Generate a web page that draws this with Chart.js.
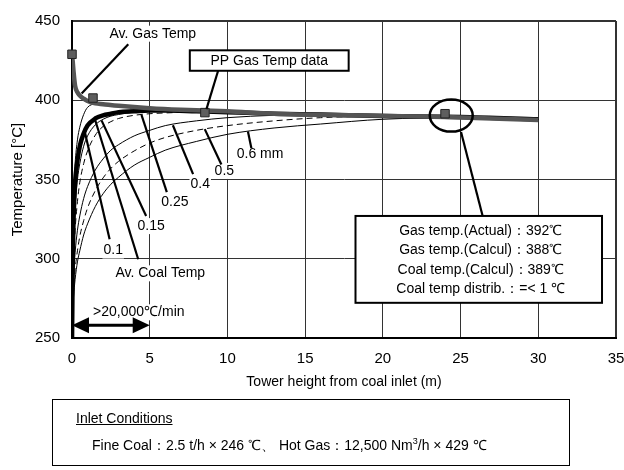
<!DOCTYPE html>
<html lang="en">
<head>
  <meta charset="UTF-8" />
  <title>Coal / Gas Temperature vs Tower Height</title>
  <script src="https://cdn.jsdelivr.net/npm/chart.js"></script>
  <style>
    body { margin: 0; background: #fff; font-family: "Liberation Sans", Arial, sans-serif; }
    #wrap { position: relative; width: 624px; height: 470px; }
    #inlet {
      position: absolute; left: 52px; top: 399px; width: 518px; height: 67px;
      border: 1.5px solid #000; box-sizing: border-box; font-size: 14px; color: #000;
    }
    #inlet .h { position: absolute; left: 23px; top: 10px; text-decoration: underline; }
    #inlet .l { position: absolute; left: 39px; top: 35px; white-space: nowrap; }
  </style>
</head>
<body>
<div id="wrap">
  <canvas id="chart" width="624" height="470"></canvas>
  <div id="inlet">
    <div class="h">Inlet Conditions</div>
    <div class="l">Fine Coal：2.5 t/h × 246 ℃、 Hot Gas：12,500 Nm<sup style="font-size:9px">3</sup>/h × 429 ℃</div>
  </div>
</div>

<script>
  // tower height (m) for the coal curves
  const coalX = [0, 0.05, 0.1, 0.2, 0.35, 0.5, 0.75, 1, 1.5, 2, 2.5, 3, 4, 5, 6, 8, 10, 13, 16, 20, 25, 30];
  // coal temperature per particle size (deg C)
  const coal01  = [246, 320, 340, 360, 375, 383, 391, 395.5, 397.5, 397.5, 397, 396.5, 395.5, 395, 394.5, 393.5, 393, 391.5, 391, 390, 389.5, 388];
  const coalAvg = [246, 300, 325, 348, 362, 371, 379, 384, 388.5, 390.5, 391.5, 392.5, 393, 393.5, 393.5, 393, 392.5, 391.5, 391, 390, 389.5, 388];
  const coal015 = [246, 290, 310, 333, 350, 360, 371, 377.5, 384.5, 388, 390, 391, 392.5, 393, 393, 393, 392.5, 391.5, 391, 390, 389.5, 388];
  const coal025 = [246, 283, 297, 318, 336, 348, 360, 368, 378, 383.5, 386.5, 388.5, 390.5, 391.5, 392, 392.5, 392.5, 391.5, 391, 390, 389.5, 388];
  const coal04  = [246, 279, 290, 304, 318, 327, 338, 345.5, 356, 363, 368.5, 372, 377.5, 381, 384, 387, 389, 390.5, 391, 390, 389.5, 388];
  const coal05  = [246, 272, 281, 293, 305, 314, 324, 332, 343, 351, 357, 361.5, 368, 373, 376.5, 381, 384, 387, 389, 390, 389.5, 388];
  const coal06  = [246, 268, 276, 287, 298, 305, 315, 322, 333, 341, 347, 351.5, 359, 364, 368.5, 374, 378.5, 382.5, 385, 388, 389, 388];

  // average gas temperature
  const gasX = [0, 0.05, 0.1, 0.2, 0.35, 0.5, 0.75, 1, 1.5, 2, 3, 5, 7, 10, 13, 18, 24, 30];
  const gasT = [429, 424, 418, 409, 405, 403, 401, 399.5, 398, 397.5, 396.5, 395, 394, 393, 391.5, 390.5, 389.5, 387.5];

  // plant (PP) gas temperature measurements
  const ppX = [0, 1.35, 8.55, 24.0];
  const ppT = [429, 401.4, 392.2, 391.5];

  const xTicks = { min: 0, max: 35, step: 5 };
  const yTicks = { min: 250, max: 450, step: 50 };

  const toPts = (xs, ys) => xs.map((v, i) => ({ x: v, y: ys[i] }));

  function thin(data, dashed) {
    return {
      data: toPts(coalX, data), borderColor: "#000", borderWidth: 1,
      borderDash: dashed ? [6, 4] : [], pointRadius: 0,
      cubicInterpolationMode: "monotone", order: 2
    };
  }

  // annotations in data units
  const labels = [
    { t: "Av. Gas Temp", x: 5.2, y: 442 },
    { t: "0.6 mm", x: 12.1, y: 365.7 },
    { t: "0.5", x: 9.8, y: 355.4 },
    { t: "0.4", x: 8.25, y: 347 },
    { t: "0.25", x: 6.62, y: 336 },
    { t: "0.15", x: 5.09, y: 320.6 },
    { t: "0.1", x: 2.65, y: 305.2 },
    { t: "Av. Coal Temp", x: 5.68, y: 290.8 },
    { t: ">20,000℃/min", x: 4.3, y: 266.2 }
  ];
  const leaders = [
    [3.62, 435.4, 0.62, 404.3],
    [9.4, 418.6, 8.65, 394.4],
    [25.03, 380, 26.42, 327],
    [11.54, 369.8, 11.32, 380.3],
    [9.61, 359.5, 8.54, 381.8],
    [7.79, 353.4, 6.49, 384.2],
    [6.1, 342, 4.47, 390.8],
    [4.77, 327, 1.9, 387.3],
    [2.42, 312.3, 0.8, 381],
    [4.26, 299.7, 1.47, 388.2]
  ];
  const ppBox = { t: "PP Gas Temp data", x1: 7.58, x2: 17.8, y1: 431.5, y2: 418.6 };
  const infoBox = {
    lines: ["Gas temp.(Actual)：392℃", "Gas temp.(Calcul)：388℃", "Coal temp.(Calcul)：389℃", "Coal temp distrib.：=< 1 ℃"],
    x1: 18.24, x2: 34.1, y1: 327, y2: 272.2
  };
  const circle = { x: 24.4, y: 390.3 };
  const arrow = { x1: 0, x2: 5, y: 258 };

  const annot = {
    id: "annot",
    afterDatasetsDraw(chart) {
      const { ctx, scales: { x, y } } = chart;
      const px = v => x.getPixelForValue(v);
      const py = v => y.getPixelForValue(v);
      ctx.save();
      ctx.font = '14px "Liberation Sans", Arial, sans-serif';
      ctx.textAlign = "center";
      ctx.textBaseline = "middle";

      // white backing behind labels
      labels.forEach(l => {
        const w = ctx.measureText(l.t).width;
        ctx.fillStyle = "#fff";
        ctx.fillRect(px(l.x) - w / 2 - 1, py(l.y) - 8, w + 2, 16);
      });

      ctx.strokeStyle = "#000";
      ctx.lineWidth = 2.2;
      leaders.forEach(l => {
        ctx.beginPath();
        ctx.moveTo(px(l[0]), py(l[1]));
        ctx.lineTo(px(l[2]), py(l[3]));
        ctx.stroke();
      });

      ctx.fillStyle = "#000";
      labels.forEach(l => ctx.fillText(l.t, px(l.x), py(l.y)));

      // PP data box
      let bx = px(ppBox.x1), by = py(ppBox.y1), bw = px(ppBox.x2) - bx, bh = py(ppBox.y2) - by;
      ctx.fillStyle = "#fff";
      ctx.fillRect(bx, by, bw, bh);
      ctx.lineWidth = 2;
      ctx.strokeRect(bx, by, bw, bh);
      ctx.fillStyle = "#000";
      ctx.fillText(ppBox.t, bx + bw / 2, by + bh / 2 + 1);

      // result box
      bx = px(infoBox.x1); by = py(infoBox.y1);
      bw = px(infoBox.x2) - bx; bh = py(infoBox.y2) - by;
      ctx.fillStyle = "#fff";
      ctx.fillRect(bx, by, bw, bh);
      ctx.strokeRect(bx, by, bw, bh);
      ctx.fillStyle = "#000";
      ctx.font = '14px "Liberation Sans", Arial, sans-serif';
      infoBox.lines.forEach((s, i) => ctx.fillText(s, bx + bw / 2 + 2, by + 15 + i * 19.5));

      // circle round the 24 m measurement
      ctx.lineWidth = 2.5;
      ctx.beginPath();
      ctx.ellipse(px(circle.x), py(circle.y), 21.5, 16, 0, 0, Math.PI * 2);
      ctx.stroke();

      // heating-rate arrow
      const ax1 = px(arrow.x1), ax2 = px(arrow.x2), ay = py(arrow.y);
      ctx.lineWidth = 3;
      ctx.beginPath();
      ctx.moveTo(ax1 + 10, ay);
      ctx.lineTo(ax2 - 10, ay);
      ctx.stroke();
      ctx.beginPath();
      ctx.moveTo(ax1, ay); ctx.lineTo(ax1 + 17, ay - 8); ctx.lineTo(ax1 + 17, ay + 8); ctx.closePath();
      ctx.moveTo(ax2, ay); ctx.lineTo(ax2 - 17, ay - 8); ctx.lineTo(ax2 - 17, ay + 8); ctx.closePath();
      ctx.fill();
      ctx.restore();
    }
  };

  const edge = (v, max) => (v === max ? 2 : 1);

  new Chart(document.getElementById("chart"), {
    type: "line",
    data: {
      datasets: [
        { data: toPts(ppX, ppT), showLine: false, pointStyle: "rect", pointRadius: 6, clip: false,
          pointBackgroundColor: "#5e5e5e", pointBorderColor: "#222", pointBorderWidth: 1, order: -1 },
        { data: toPts(gasX, gasT), borderColor: "#555", borderWidth: 4.5, pointRadius: 0,
          cubicInterpolationMode: "monotone", order: 0 },
        { data: toPts(coalX, coalAvg), borderColor: "#000", borderWidth: 4.5, pointRadius: 0,
          cubicInterpolationMode: "monotone", order: 1 },
        thin(coal01, false),
        thin(coal015, false),
        thin(coal025, true),
        thin(coal04, false),
        thin(coal05, true),
        thin(coal06, false)
      ]
    },
    options: {
      responsive: false,
      animation: false,
      layout: { padding: { top: 13, right: 8, left: 0, bottom: 74 } },
      plugins: { legend: { display: false }, tooltip: { enabled: false } },
      scales: {
        x: {
          type: "linear", min: xTicks.min, max: xTicks.max,
          ticks: { stepSize: xTicks.step, color: "#000", font: { size: 15 }, padding: 12, maxRotation: 0 },
          grid: { color: "#333", lineWidth: c => edge(c.tick.value, xTicks.max), drawTicks: false },
          border: { color: "#000", width: 2 },
          title: { display: true, text: "Tower height from coal inlet (m)", color: "#000",
                   font: { size: 14 }, padding: { top: 0, bottom: 5 } },
          afterFit: s => { s.height = 58; s.paddingLeft = 0; s.paddingRight = 0; }
        },
        y: {
          min: yTicks.min, max: yTicks.max,
          ticks: { stepSize: yTicks.step, color: "#000", font: { size: 15 }, padding: 12 },
          grid: { color: "#333", lineWidth: c => edge(c.tick.value, yTicks.max), drawTicks: false },
          border: { color: "#000", width: 2 },
          title: { display: true, text: "Temperature [°C]", color: "#000",
                   font: { size: 15 }, padding: { top: 9, bottom: 0 } },
          afterFit: s => { s.width = 72; }
        }
      }
    },
    plugins: [annot]
  });
</script>
</body>
</html>
